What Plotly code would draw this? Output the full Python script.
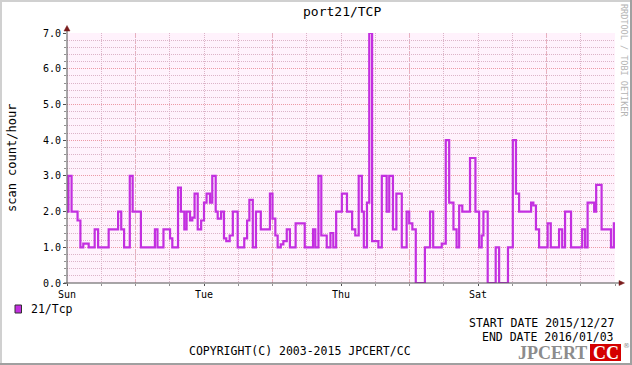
import plotly.graph_objects as go

# ---------------- data ----------------
title_text = "port21/TCP"
series_name = "21/Tcp"
y_title = "scan count/hour"
start_date = "2015/12/27"
end_date = "2016/01/03"
day_tick_hours = [0, 48, 96, 144]
day_tick_labels = ["Sun", "Tue", "Thu", "Sat"]
major_grid_hours = [24, 72, 120, 168]
total_hours = 192

step_hours = [0, 0.5, 1.6, 3.7, 4.7, 5.7, 7.6, 9.7, 10.9, 14.6, 17.9, 19.0, 20.0, 22.0, 23.0,
              25.9, 30.8, 31.7, 33.8, 36.1, 36.9, 38.9, 39.9, 41.1, 41.9, 43.1, 43.9, 44.7,
              45.8, 47.0, 48.0, 48.9, 50.1, 50.9, 52.1, 52.8, 54.0, 55.0, 55.8, 57.0, 58.1,
              59.8, 62.1, 63.1, 63.9, 65.1, 66.2, 67.9, 71.1, 72.0, 73.0, 73.8, 74.9, 75.8,
              77.0, 78.1, 80.1, 83.3, 86.2, 87.0, 88.1, 89.1, 91.0, 92.3, 93.3, 94.3, 96.3,
              98.1, 99.9, 101.0, 102.2, 103.3, 104.0, 105.1, 105.9, 106.9, 109.1, 110.3,
              112.0, 112.9, 114.2, 115.4, 117.3, 119.0, 119.9, 121.0, 122.2, 125.4, 127.2,
              128.3, 131.3, 132.7, 133.9, 135.4, 136.5, 137.4, 138.5, 141.2, 143.1, 144.4,
              145.3, 145.9, 147.4, 150.2, 151.4, 154.5, 156.2, 157.3, 158.4, 162.6, 163.4,
              164.3, 165.4, 168.4, 169.5, 172.4, 173.5, 174.5, 176.6, 180.5, 181.5, 182.4,
              184.7, 185.4, 187.3, 190.6, 191.6]
step_values = [2.0, 3.0, 2.0, 1.75, 1.0, 1.1, 1.0, 1.5, 1.0, 1.5, 2.0, 1.5, 1.0, 3.0, 2.0,
               1.0, 1.5, 1.0, 1.5, 1.25, 1.0, 2.67, 2.0, 1.5, 2.0, 1.75, 1.83, 2.5,
               1.5, 1.75, 2.25, 2.5, 2.25, 3.0, 2.0, 1.8, 2.0, 1.25, 1.17, 1.33, 2.0,
               1.0, 1.25, 1.75, 2.33, 1.0, 2.0, 1.5, 2.5, 1.8, 1.33, 1.0, 1.08, 1.17,
               1.5, 1.0, 1.67, 1.0, 1.5, 1.0, 3.0, 1.33, 1.0, 1.4, 1.0, 2.0, 2.5,
               2.0, 1.5, 1.33, 3.0, 2.0, 1.0, 2.25, 7.0, 1.17, 1.0, 3.0,
               2.0, 3.0, 1.5, 2.5, 1.0, 2.0, 1.67, 1.5, 0.0, 1.0, 2.0,
               1.0, 1.1, 4.0, 2.25, 1.5, 1.0, 2.17, 2.0, 3.5, 2.0, 1.0,
               1.33, 2.0, 0.0, 1.0, 0.0, 1.0, 4.0, 2.5, 2.0, 2.25, 2.17,
               1.5, 1.0, 1.67, 1.0, 1.5, 1.0, 2.0, 1.0, 1.5, 1.0, 2.25,
               2.0, 2.75, 1.5, 1.0, 1.67]
assert len(step_hours) == len(step_values)

# ---------------- layout helpers ----------------
W, H = 632, 365
L, R, T, B = 67, 17, 33, 82
PW, PH = W - L - R, H - T - B
MONO = "DejaVu Sans Mono"
LINE_COLOR = "#c32fe0"
GRID_DASH = "1px,1px"
MAJOR_GRID = "#ec9aa6"
MINOR_GRID = "#dcb4c8"

def px(x):
    return (x - L) / PW

def py(y):
    return (H - B - y) / PH

xs = step_hours + [total_hours]
ys = step_values + [step_values[-1]]

fig = go.Figure()
fig.add_trace(go.Scatter(x=xs, y=ys, mode="lines", line_shape="hv",
                         line=dict(color=LINE_COLOR, width=2.2),
                         hoverinfo="skip", showlegend=False))

shapes = []
# major vertical grid (red dotted)
for h in major_grid_hours:
    shapes.append(dict(type="line", xref="x", yref="paper", x0=h, x1=h, y0=0, y1=1,
                       line=dict(color="#f0b0b8", width=1, dash="dot"), layer="below"))
# axis lines
shapes.append(dict(type="line", xref="paper", yref="paper", x0=px(67), x1=px(67),
                   y0=py(284), y1=py(29), line=dict(color="#505050", width=1)))
shapes.append(dict(type="line", xref="paper", yref="paper", x0=px(64), x1=px(620),
                   y0=py(283), y1=py(283), line=dict(color="#505050", width=1)))
# arrows
shapes.append(dict(type="path", xref="paper", yref="paper",
                   path=f"M {px(64)} {py(31)} L {px(70)} {py(31)} L {px(67)} {py(25.5)} Z",
                   fillcolor="#7a1c1c", line=dict(color="#7a1c1c", width=0.5)))
shapes.append(dict(type="path", xref="paper", yref="paper",
                   path=f"M {px(619)} {py(280.5)} L {px(619)} {py(285.5)} L {px(624.5)} {py(283)} Z",
                   fillcolor="#7a1c1c", line=dict(color="#7a1c1c", width=0.5)))
# outer frame
shapes += [
    dict(type="line", xref="paper", yref="paper", x0=px(0), x1=px(632), y0=py(1), y1=py(1),
         line=dict(color="#d0d0d0", width=2)),
    dict(type="line", xref="paper", yref="paper", x0=px(1), x1=px(1), y0=py(0), y1=py(365),
         line=dict(color="#d0d0d0", width=2)),
    dict(type="line", xref="paper", yref="paper", x0=px(0), x1=px(632), y0=py(364), y1=py(364),
         line=dict(color="#a0a0a0", width=2)),
    dict(type="line", xref="paper", yref="paper", x0=px(631), x1=px(631), y0=py(0), y1=py(365),
         line=dict(color="#a0a0a0", width=2)),
]
# legend swatch
shapes.append(dict(type="rect", xref="paper", yref="paper", x0=px(15), x1=px(21.5),
                   y0=py(313), y1=py(305), fillcolor=LINE_COLOR,
                   line=dict(color="#303030", width=1)))
# logo box
shapes.append(dict(type="rect", xref="paper", yref="paper", x0=px(590), x1=px(621),
                   y0=py(361), y1=py(344), fillcolor="#d40000", line=dict(width=0)))

ann = []
def text(s, x, y, size, xanchor="center", color="#000000", family=MONO, angle=0):
    ann.append(dict(text=s, x=px(x), y=py(y), xref="paper", yref="paper",
                    xanchor=xanchor, yanchor="middle", showarrow=False,
                    textangle=angle, font=dict(family=family, size=size, color=color)))

text(title_text, 342, 12, 13)
text(y_title, 12, 158, 12, angle=-90)
text("RRDTOOL / TOBI OETIKER", 624, 60, 8.5, color="#b4b4b4", angle=90)
text(series_name, 29, 309, 11.5, xanchor="left")
text("START DATE " + start_date, 616, 323, 11.5, xanchor="right")
text("END DATE " + end_date, 616, 337, 11.5, xanchor="right")
text("COPYRIGHT(C) 2003-2015 JPCERT/CC", 300, 351, 11.5)
text("<b>JPCERT</b>", 589, 353, 18, xanchor="right", color="#8c8c8c", family="Liberation Serif")
text("<b>CC</b>", 605.5, 353, 18, color="#ffffff", family="Liberation Serif")
text("®", 626.5, 346, 7, color="#8c8c8c", family="DejaVu Sans")

fig.update_layout(
    width=W, height=H,
    margin=dict(l=L, r=R, t=T, b=B, pad=0),
    paper_bgcolor="#ffffff",
    plot_bgcolor="#fff2fc",
    showlegend=False,
    shapes=shapes,
    annotations=ann,
    xaxis=dict(range=[0, total_hours], tickvals=day_tick_hours, ticktext=day_tick_labels,
               showgrid=False, zeroline=False, showline=False,
               ticks="outside", ticklen=2, tickcolor="#505050",
               tickfont=dict(family=MONO, size=10, color="#000000"),
               minor=dict(dtick=12, tick0=0, showgrid=True, gridcolor=MINOR_GRID,
                          griddash=GRID_DASH, gridwidth=1, ticks="outside", ticklen=2,
                          tickcolor="#909090"),
               fixedrange=True),
    yaxis=dict(range=[0, 7], dtick=1, tick0=0, tickformat=".1f",
               showgrid=True, gridcolor=MAJOR_GRID, griddash=GRID_DASH, gridwidth=1,
               zeroline=False, showline=False,
               ticks="outside", ticklen=3, tickcolor="#505050",
               tickfont=dict(family=MONO, size=10, color="#000000"),
               minor=dict(dtick=0.2, showgrid=True, gridcolor=MINOR_GRID, griddash=GRID_DASH,
                          gridwidth=1, ticks="outside", ticklen=2, tickcolor="#909090"),
               fixedrange=True),
)

fig.write_html("out.html", config={"displayModeBar": False},
               post_script="document.body.style.margin='0px';document.body.style.overflow='hidden';")
